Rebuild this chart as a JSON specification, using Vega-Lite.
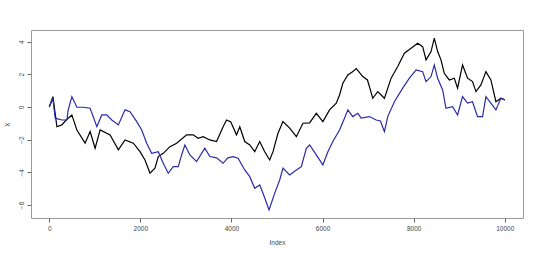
{
  "$schema": "https://vega.github.io/schema/vega-lite/v6.json",
  "width": 492,
  "height": 188,
  "autosize": "none",
  "padding": {"left": 31, "top": 30, "right": 17, "bottom": 39},
  "background": "white",
  "config": {
    "view": {"stroke": "#9a9a9a", "strokeWidth": 1},
    "font": "Liberation Sans",
    "axis": {"grid": false, "domain": false, "tickColor": "#666", "tickSize": 4, "labelFontSize": 6.5, "labelColor": "#444", "titleFontSize": 6.5, "titleColor": "#444", "titleFontWeight": "normal", "labelPadding": 3}
  },
  "datasets": {
    "black": [
      {"i":1,"v":0},{"i":81,"v":0.63},{"i":169,"v":-1.21},{"i":278,"v":-1.10},{"i":372,"v":-0.80},{"i":497,"v":-0.49},{"i":607,"v":-1.41},{"i":788,"v":-2.22},{"i":898,"v":-1.51},{"i":1007,"v":-2.53},{"i":1117,"v":-1.41},{"i":1336,"v":-1.71},{"i":1518,"v":-2.63},{"i":1664,"v":-2.02},{"i":1846,"v":-2.22},{"i":1993,"v":-2.74},{"i":2102,"v":-3.25},{"i":2212,"v":-4.06},{"i":2321,"v":-3.75},{"i":2394,"v":-3.04},{"i":2503,"v":-2.84},{"i":2650,"v":-2.43},{"i":2797,"v":-2.22},{"i":3016,"v":-1.71},{"i":3160,"v":-1.71},{"i":3270,"v":-1.92},{"i":3379,"v":-1.82},{"i":3526,"v":-2.02},{"i":3673,"v":-2.12},{"i":3817,"v":-1.21},{"i":3892,"v":-0.80},{"i":3986,"v":-0.92},{"i":4111,"v":-1.71},{"i":4183,"v":-1.21},{"i":4292,"v":-2.12},{"i":4402,"v":-2.33},{"i":4511,"v":-2.74},{"i":4621,"v":-2.12},{"i":4730,"v":-2.74},{"i":4840,"v":-3.25},{"i":4912,"v":-2.74},{"i":5022,"v":-1.61},{"i":5131,"v":-0.90},{"i":5278,"v":-1.30},{"i":5425,"v":-1.82},{"i":5569,"v":-1.00},{"i":5716,"v":-0.98},{"i":5863,"v":-0.39},{"i":6007,"v":-0.90},{"i":6154,"v":-0.18},{"i":6301,"v":0.23},{"i":6373,"v":0.73},{"i":6445,"v":1.45},{"i":6555,"v":1.96},{"i":6658,"v":2.16},{"i":6740,"v":2.35},{"i":6800,"v":2.15},{"i":6883,"v":1.86},{"i":6986,"v":1.65},{"i":7102,"v":0.53},{"i":7212,"v":0.94},{"i":7358,"v":0.53},{"i":7505,"v":1.76},{"i":7650,"v":2.47},{"i":7796,"v":3.29},{"i":7943,"v":3.59},{"i":8088,"v":3.90},{"i":8197,"v":3.69},{"i":8272,"v":2.88},{"i":8381,"v":3.39},{"i":8453,"v":4.21},{"i":8526,"v":3.39},{"i":8600,"v":2.88},{"i":8672,"v":2.06},{"i":8782,"v":1.65},{"i":8891,"v":1.76},{"i":8964,"v":1.15},{"i":9073,"v":2.57},{"i":9183,"v":1.76},{"i":9292,"v":1.55},{"i":9367,"v":0.94},{"i":9476,"v":1.35},{"i":9586,"v":2.16},{"i":9695,"v":1.65},{"i":9805,"v":0.32},{"i":9914,"v":0.53},{"i":10000,"v":0.43}
    ],
    "blue": [
      {"i":1,"v":0},{"i":81,"v":0.5},{"i":131,"v":-0.69},{"i":278,"v":-0.80},{"i":388,"v":-0.80},{"i":416,"v":-0.2},{"i":497,"v":0.63},{"i":607,"v":-0.02},{"i":751,"v":-0.02},{"i":898,"v":-0.08},{"i":1045,"v":-1.21},{"i":1154,"v":-0.49},{"i":1264,"v":-0.49},{"i":1373,"v":-0.80},{"i":1518,"v":-1.10},{"i":1664,"v":-0.18},{"i":1774,"v":-0.29},{"i":1921,"v":-0.90},{"i":2030,"v":-1.41},{"i":2140,"v":-2.22},{"i":2249,"v":-2.84},{"i":2394,"v":-2.74},{"i":2503,"v":-3.45},{"i":2613,"v":-4.06},{"i":2722,"v":-3.66},{"i":2832,"v":-3.66},{"i":2906,"v":-2.94},{"i":2978,"v":-2.33},{"i":3088,"v":-2.94},{"i":3235,"v":-3.35},{"i":3416,"v":-2.53},{"i":3526,"v":-3.04},{"i":3673,"v":-3.12},{"i":3817,"v":-3.45},{"i":3920,"v":-3.12},{"i":4036,"v":-3.04},{"i":4146,"v":-3.14},{"i":4292,"v":-3.86},{"i":4402,"v":-4.27},{"i":4511,"v":-4.98},{"i":4621,"v":-4.78},{"i":4693,"v":-5.29},{"i":4825,"v":-6.31},{"i":4949,"v":-5.29},{"i":5059,"v":-4.47},{"i":5131,"v":-3.75},{"i":5278,"v":-4.16},{"i":5425,"v":-3.86},{"i":5534,"v":-3.66},{"i":5644,"v":-2.53},{"i":5716,"v":-2.33},{"i":5863,"v":-2.94},{"i":6007,"v":-3.55},{"i":6117,"v":-2.74},{"i":6226,"v":-2.12},{"i":6373,"v":-1.41},{"i":6482,"v":-0.69},{"i":6555,"v":-0.18},{"i":6664,"v":-0.59},{"i":6774,"v":-0.39},{"i":6848,"v":-0.69},{"i":7030,"v":-0.59},{"i":7177,"v":-0.80},{"i":7271,"v":-0.86},{"i":7358,"v":-1.51},{"i":7431,"v":-0.59},{"i":7577,"v":0.32},{"i":7759,"v":1.15},{"i":7906,"v":1.76},{"i":8053,"v":2.27},{"i":8197,"v":2.16},{"i":8272,"v":1.55},{"i":8381,"v":1.86},{"i":8453,"v":2.57},{"i":8526,"v":1.76},{"i":8636,"v":1.04},{"i":8709,"v":-0.08},{"i":8855,"v":0.02},{"i":8964,"v":-0.49},{"i":9073,"v":0.63},{"i":9183,"v":0.23},{"i":9292,"v":0.32},{"i":9402,"v":-0.59},{"i":9512,"v":-0.59},{"i":9586,"v":0.63},{"i":9695,"v":0.23},{"i":9805,"v":-0.18},{"i":9914,"v":0.53},{"i":10000,"v":0.43}
    ]
  },
  "encoding": {
    "x": {"field": "i", "type": "quantitative", "scale": {"domain": [-400, 10400], "nice": false, "zero": false},
      "axis": {"title": "Index", "values": [0, 2000, 4000, 6000, 8000, 10000], "format": "d", "titlePadding": 8}},
    "y": {"field": "v", "type": "quantitative", "scale": {"domain": [-6.8, 4.71], "nice": false, "zero": false},
      "axis": {"title": "X", "values": [-6, -4, -2, 0, 2, 4], "format": "d", "labelAngle": -90, "labelAlign": "center", "labelBaseline": "bottom", "titlePadding": 8}}
  },
  "layer": [
    {"data": {"name": "black"}, "mark": {"type": "line", "color": "black", "strokeWidth": 1.2}},
    {"data": {"name": "blue"}, "mark": {"type": "line", "color": "#2a2aa8", "strokeWidth": 1.2}}
  ]
}
